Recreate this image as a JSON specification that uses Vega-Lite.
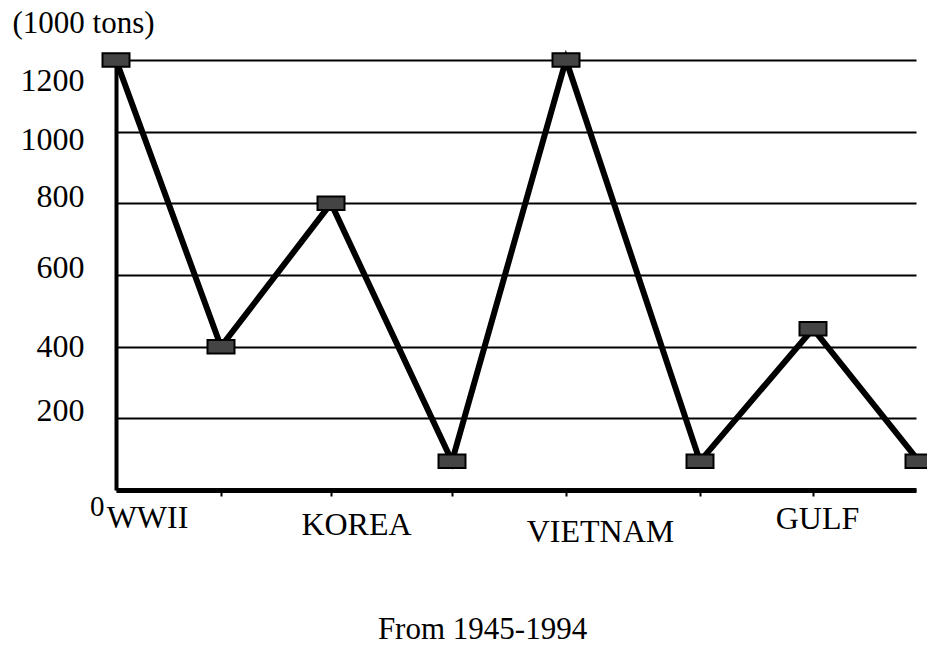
{
  "$schema": "https://vega.github.io/schema/vega-lite/v6.json",
  "width": 800,
  "height": 430,
  "autosize": {"type": "none"},
  "padding": {"left": 116, "top": 60, "right": 11, "bottom": 156},
  "background": "white",
  "config": {"view": {"stroke": null}, "font": "Liberation Serif"},
  "data": {
    "values": [
      {"step": 0, "tons": 1200},
      {"step": 1.05, "tons": 400},
      {"step": 2.15, "tons": 800},
      {"step": 3.36, "tons": 80},
      {"step": 4.5, "tons": 1200},
      {"step": 5.84, "tons": 80},
      {"step": 6.97, "tons": 450},
      {"step": 8.03, "tons": 80}
    ]
  },
  "encoding": {
    "x": {
      "field": "step",
      "type": "quantitative",
      "scale": {"domain": [0, 8], "nice": false},
      "axis": {
        "title": "From 1945-1994",
        "titleFont": "Liberation Serif",
        "titleFontSize": 31,
        "titleFontWeight": "normal",
        "titleColor": "black",
        "titleX": 366,
        "titleY": 148,
        "titleBaseline": "alphabetic",
        "titleAlign": "center",
        "values": [1.05, 2.15, 3.36, 4.5, 5.84, 6.97, 0.31, 2.4, 4.84, 7.01],
        "labelExpr": "datum.value == 0.31 ? 'WWII' : datum.value == 2.4 ? 'KOREA' : datum.value == 4.84 ? 'VIETNAM' : datum.value == 7.01 ? 'GULF' : ''",
        "labelFont": "Liberation Serif",
        "labelFontSize": 32,
        "labelColor": "black",
        "labelOverlap": false,
        "labelFlush": false,
        "labelBound": false,
        "labelAlign": "center",
        "labelBaseline": "top",
        "labelPadding": {
          "condition": [
            {"test": "datum.value == 0.31", "value": 6},
            {"test": "datum.value == 2.4", "value": 13},
            {"test": "datum.value == 4.84", "value": 20}
          ],
          "value": 7
        },
        "tickOpacity": {
          "condition": {"test": "datum.value == 0.31 || datum.value == 2.4 || datum.value == 4.84 || datum.value == 7.01", "value": 0},
          "value": 1
        },
        "tickColor": "black",
        "tickWidth": 2,
        "tickSize": 6,
        "domainColor": "black",
        "domainWidth": 5,
        "grid": false
      }
    },
    "y": {
      "field": "tons",
      "type": "quantitative",
      "scale": {"domain": [0, 1200], "nice": false},
      "axis": {
        "title": "(1000 tons)",
        "titleAngle": 0,
        "titleAlign": "left",
        "titleBaseline": "alphabetic",
        "titleX": -104,
        "titleY": -28,
        "titleFont": "Liberation Serif",
        "titleFontSize": 31,
        "titleFontWeight": "normal",
        "titleColor": "black",
        "values": [0, 200, 400, 600, 800, 1000, 1200],
        "format": "d",
        "ticks": false,
        "grid": true,
        "gridColor": "black",
        "gridWidth": 2,
        "gridOpacity": 1,
        "domainColor": "black",
        "domainWidth": 4,
        "labelFont": "Liberation Serif",
        "labelFontSize": {"condition": {"test": "datum.value == 0", "value": 29}, "value": 32},
        "labelColor": "black",
        "labelBaseline": {"condition": {"test": "datum.value == 0", "value": "top"}, "value": "middle"},
        "labelPadding": {"condition": {"test": "datum.value == 0", "value": 12}, "value": 32},
        "labelOffset": {
          "condition": [
            {"test": "datum.value == 1200", "value": 20},
            {"test": "datum.value == 1000", "value": 8},
            {"test": "datum.value == 800", "value": -7},
            {"test": "datum.value == 600", "value": -8},
            {"test": "datum.value == 200", "value": -8},
            {"test": "datum.value == 0", "value": 2}
          ],
          "value": 0
        },
        "labelOverlap": false,
        "labelFlush": false,
        "labelBound": false
      }
    }
  },
  "layer": [
    {"mark": {"type": "line", "color": "black", "strokeWidth": 6}},
    {
      "mark": {
        "type": "point",
        "shape": "M-1,-0.5L1,-0.5L1,0.5L-1,0.5Z",
        "size": 729,
        "filled": true,
        "fill": "#444444",
        "stroke": "black",
        "strokeWidth": 2,
        "opacity": 1
      }
    }
  ]
}
